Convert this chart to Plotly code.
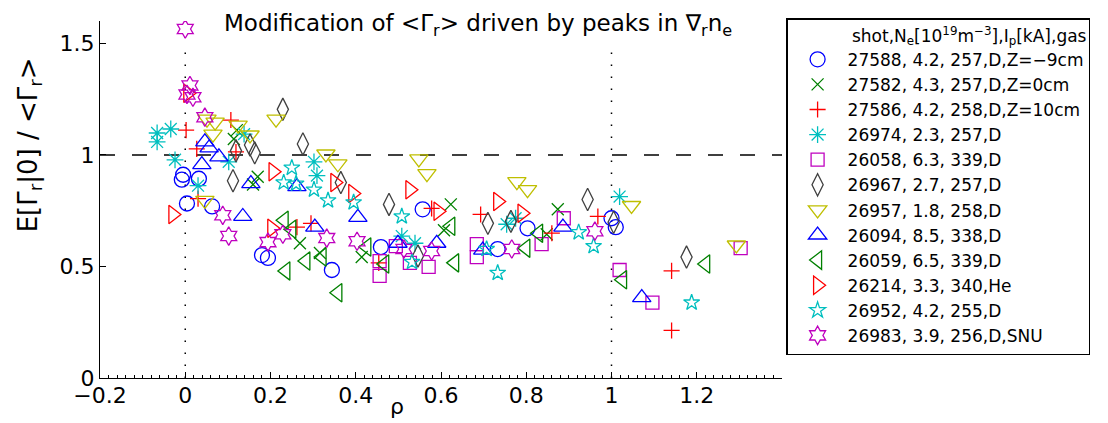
import plotly.graph_objects as go

FONT = "DejaVu Sans"

# ---------------- data (rho, E[Gamma_r|0]/<Gamma_r>) ----------------
s27588_x = [-0.005, -0.008, 0.032, 0.004, 0.063, 0.180, 0.194, 0.344, 0.459, 0.557, 0.733, 0.803, 1.000, 1.010]
s27588_y = [0.911, 0.889, 0.893, 0.782, 0.769, 0.551, 0.538, 0.484, 0.587, 0.756, 0.578, 0.671, 0.716, 0.676]

s27582_x = [0.121, 0.114, 0.170, 0.159, 0.269, 0.316, 0.414, 0.623, 0.607, 0.874, 0.848]
s27582_y = [1.111, 1.071, 0.902, 0.867, 0.604, 0.560, 0.542, 0.778, 0.662, 0.756, 0.644]

s27586_x = [0.002, 0.107, 0.027, 0.119, 0.030, 0.262, 0.295, 0.454, 0.578, 0.693, 0.860, 0.968, 1.141, 1.141]
s27586_y = [1.111, 1.156, 1.027, 1.013, 0.804, 0.676, 0.693, 0.516, 0.760, 0.733, 0.649, 0.724, 0.480, 0.213]

s26974_x = [-0.066, -0.066, -0.034, -0.024, 0.030, 0.102, 0.138, 0.302, 0.309, 0.508, 0.539, 0.754, 0.775, 1.019]
s26974_y = [1.098, 1.058, 1.116, 0.978, 0.862, 0.969, 1.093, 0.969, 0.907, 0.636, 0.604, 0.689, 0.716, 0.813]

s26058_x = [0.456, 0.456, 0.494, 0.527, 0.571, 0.684, 0.684, 0.836, 0.888, 1.019, 1.096, 1.303]
s26058_y = [0.524, 0.458, 0.591, 0.516, 0.498, 0.600, 0.542, 0.600, 0.716, 0.484, 0.338, 0.582]

s26967_x = [0.229, 0.276, 0.119, 0.152, 0.163, 0.112, 0.365, 0.478, 0.546, 0.710, 0.764, 0.944, 1.005, 1.176]
s26967_y = [1.204, 1.049, 1.018, 1.044, 1.009, 0.884, 0.876, 0.778, 0.547, 0.693, 0.702, 0.800, 0.698, 0.542]

s26957_x = [0.051, 0.070, 0.065, 0.124, 0.152, 0.213, 0.330, 0.358, 0.548, 0.567, 0.778, 0.803, 1.047, 1.293, 0.046]
s26957_y = [1.160, 1.147, 1.093, 1.133, 1.089, 1.160, 1.004, 0.960, 0.982, 0.916, 0.880, 0.844, 0.773, 0.596, 0.796]

s26094_x = [0.046, 0.056, 0.039, 0.079, 0.154, 0.262, 0.135, 0.304, 0.405, 0.499, 0.590, 0.698, 0.886, 1.071]
s26094_y = [1.058, 1.031, 0.956, 0.991, 0.871, 0.858, 0.724, 0.676, 0.720, 0.604, 0.604, 0.573, 0.676, 0.360]

s26059_x = [0.232, 0.250, 0.236, 0.283, 0.321, 0.358, 0.426, 0.468, 0.623, 0.632, 0.799, 0.829, 1.026, 1.221]
s26059_y = [0.707, 0.667, 0.480, 0.524, 0.542, 0.382, 0.587, 0.511, 0.680, 0.516, 0.582, 0.649, 0.440, 0.511]

s26214_x = [0.006, -0.029, 0.203, 0.206, 0.351, 0.393, 0.527, 0.593, 0.733, 0.790]
s26214_y = [1.276, 0.733, 0.671, 0.924, 0.876, 0.827, 0.844, 0.747, 0.791, 0.738]

s26952_x = [0.250, 0.231, 0.260, 0.302, 0.335, 0.395, 0.508, 0.532, 0.707, 0.733, 0.923, 0.958, 1.188]
s26952_y = [0.942, 0.876, 0.871, 0.844, 0.796, 0.787, 0.724, 0.520, 0.578, 0.471, 0.653, 0.591, 0.338]

s26983_x = [0.000, 0.011, 0.004, 0.018, 0.046, 0.088, 0.102, 0.194, 0.229, 0.332, 0.403, 0.513, 0.578, 0.766, 0.961]
s26983_y = [1.564, 1.311, 1.271, 1.258, 1.169, 0.729, 0.636, 0.609, 0.644, 0.627, 0.613, 0.578, 0.569, 0.578, 0.658]

series_names = [
    "27588, 4.2, 257,D,Z=−9cm",
    "27582, 4.3, 257,D,Z=0cm",
    "27586, 4.2, 258,D,Z=10cm",
    "26974, 2.3, 257,D",
    "26058, 6.3, 339,D",
    "26967, 2.7, 257,D",
    "26957, 1.8, 258,D",
    "26094, 8.5, 338,D",
    "26059, 6.5, 339,D",
    "26214, 3.3, 340,He",
    "26952, 4.2, 255,D",
    "26983, 3.9, 256,D,SNU",
]
series_x = [s27588_x, s27582_x, s27586_x, s26974_x, s26058_x, s26967_x,
            s26957_x, s26094_x, s26059_x, s26214_x, s26952_x, s26983_x]
series_y = [s27588_y, s27582_y, s27586_y, s26974_y, s26058_y, s26967_y,
            s26957_y, s26094_y, s26059_y, s26214_y, s26952_y, s26983_y]

x_tickvals = [-0.2, 0, 0.2, 0.4, 0.6, 0.8, 1.0, 1.2]
x_ticktext = ["−0.2", "0", "0.2", "0.4", "0.6", "0.8", "1", "1.2"]
y_tickvals = [0, 0.5, 1.0, 1.5]
y_ticktext = ["0", "0.5", "1", "1.5"]

ref_rho = [0, 1]      # dotted vertical reference lines
ref_ratio = 1         # dashed horizontal reference line

# ---------------- styles ----------------
styles = [
    ("circle-open", "#0000FF", 15),
    ("x-thin-open", "#008000", 12),
    ("cross-thin-open", "#FF0000", 11.5),
    ("asterisk-open", "#00BFBF", 14),
    ("square-open", "#BF00BF", 13),
    ("diamond-tall-open", "#404040", 16),
    ("triangle-down-open", "#BFBF00", 16),
    ("triangle-up-open", "#0000FF", 16),
    ("triangle-left-open", "#008000", 16),
    ("triangle-right-open", "#FF0000", 16),
    ("star-open", "#00BFBF", 12),
    ("hexagram-open", "#BF00BF", 14),
]

fig = go.Figure()
for name, xs, ys, (sym, col, sz) in zip(series_names, series_x, series_y, styles):
    fig.add_trace(go.Scatter(
        x=xs, y=ys, mode="markers", name=name,
        marker=dict(symbol=sym, size=sz, color=col,
                    line=dict(color=col, width=1.3)),
    ))

for r in ref_rho:
    fig.add_shape(type="line", xref="x", yref="y", x0=r, x1=r, y0=0, y1=1.5,
                  line=dict(color="black", width=1.5, dash="1.5px,10.5px"), layer="below")
fig.add_shape(type="line", xref="x", yref="y", x0=-0.2, x1=1.4, y0=ref_ratio, y1=ref_ratio,
              line=dict(color="black", width=1.5, dash="15px,17px"), layer="below")

fig.update_xaxes(range=[-0.2, 1.4], tickmode="array", tickvals=x_tickvals, ticktext=x_ticktext,
                 ticks="inside", ticklen=6, tickcolor="black", tickwidth=1,
                 showline=True, linecolor="black", linewidth=1.2, mirror=False,
                 showgrid=False, zeroline=False, ticklabelstandoff=-3,
                 tickfont=dict(size=22, family=FONT, color="black"),
                 minor=dict(ticks="inside", ticklen=3, dtick=0.02, tick0=0,
                            tickcolor="black", showgrid=False))
fig.update_yaxes(range=[0, 1.6], tickmode="array", tickvals=y_tickvals, ticktext=y_ticktext,
                 ticks="inside", ticklen=6, tickcolor="black", tickwidth=1,
                 showline=True, linecolor="black", linewidth=1.2, mirror=False,
                 showgrid=False, zeroline=False,
                 tickfont=dict(size=22, family=FONT, color="black"))

fig.add_annotation(text="Modification of &lt;Γ<sub>r</sub>&gt; driven by peaks in ∇<sub>r</sub>n<sub>e</sub>",
                   xref="paper", yref="paper", x=0.554, y=0.989, xanchor="center", yanchor="middle",
                   showarrow=False, font=dict(size=23, family=FONT, color="black"))
fig.add_annotation(text="E[Γ<sub>r</sub>|0] / &lt;Γ<sub>r</sub>&gt;",
                   xref="paper", yref="paper", x=-0.104, y=0.652, xanchor="center", yanchor="middle",
                   textangle=-90, showarrow=False, font=dict(size=26, family=FONT, color="black"))
fig.add_annotation(text="ρ", xref="x", yref="paper", x=0.496, y=-0.081,
                   xanchor="center", yanchor="middle", showarrow=False,
                   font=dict(size=22, family=FONT, color="black"))

# the page body adds an 8px margin, so the figure is 8px smaller than the window
fig.update_layout(
    width=1100, height=415,
    margin=dict(l=92, r=326, t=10, b=45, pad=0),
    paper_bgcolor="white", plot_bgcolor="white",
    font=dict(family=FONT, color="black"),
    showlegend=True,
    legend=dict(x=1.006, y=1.008, xanchor="left", yanchor="top",
                bordercolor="black", borderwidth=1.5, bgcolor="white",
                font=dict(size=17, family=FONT, color="black"),
                itemwidth=50, tracegroupgap=0, maxheight=500,
                title=dict(text="shot,N<sub>e</sub>[10<sup>19</sup>m<sup>−3</sup>],I<sub>p</sub>[kA],gas",
                           side="top right", font=dict(size=17, family=FONT, color="black"))),
)

fig.write_html("out.html")
